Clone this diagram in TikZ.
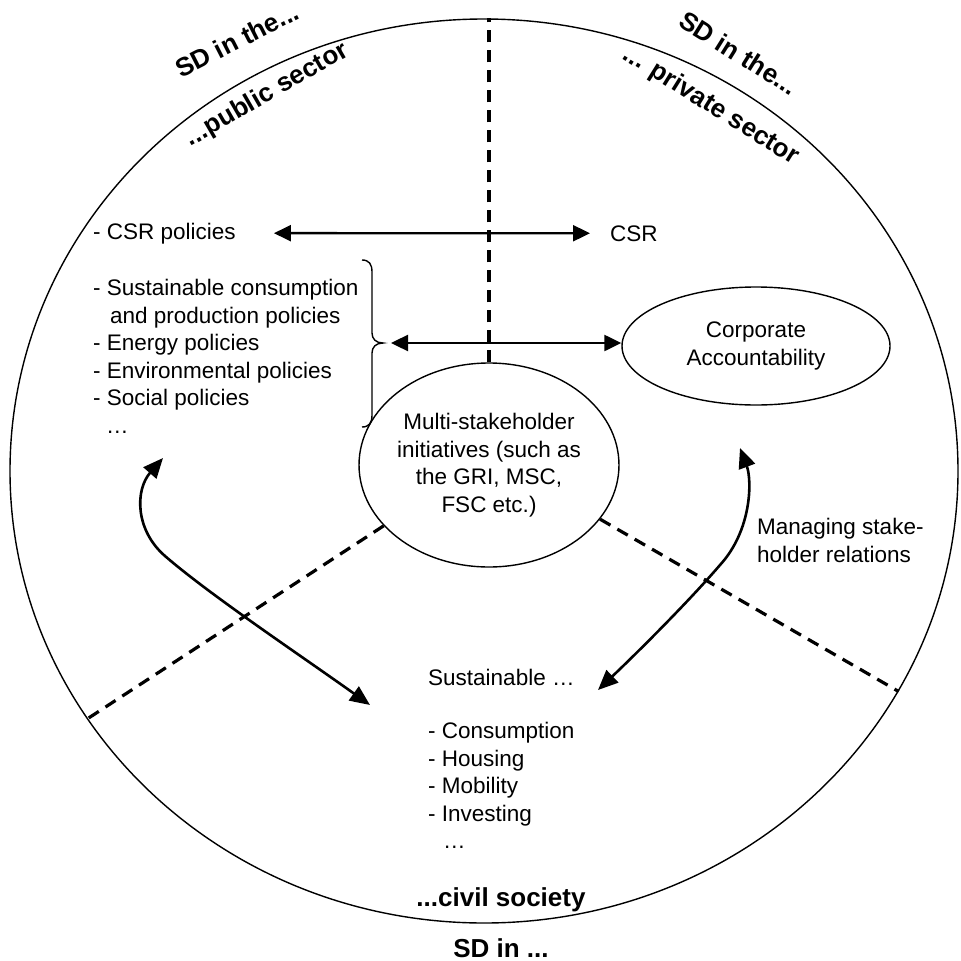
\documentclass[tikz,border=0pt]{standalone}
\usepackage{fontspec}
\setmainfont{Liberation Sans}
\usetikzlibrary{arrows.meta,shapes.geometric}
\begin{document}
\begin{tikzpicture}[x=1pt,y=-1pt,
  txt/.style={font=\fontsize{22.5}{27.5}\selectfont, inner sep=0pt},
  lbl/.style={font=\bfseries\fontsize{26}{30}\selectfont, inner sep=0pt},
  outline/.style={draw, line width=1.4pt},
  divider/.style={line width=3.2pt, dash pattern=on 12pt off 8pt},
  dbl/.style={line width=2.4pt, {Triangle[length=17pt,width=16pt]}-{Triangle[length=17pt,width=16pt]}},
  curvy/.style={line width=2.6pt, {Triangle[length=20pt,width=17pt]}-{Triangle[length=20pt,width=17pt]}},
]
\useasboundingbox (0,0) rectangle (961,961);

% outer world
\node[ellipse, outline, minimum width=948pt, minimum height=904pt, inner sep=0pt] (world) at (484,471) {};

% central nodes
\node[ellipse, outline, txt, align=center, minimum width=243pt, minimum height=204pt] (ms) at (489,465)
  {Multi-stakeholder\\initiatives (such as\\the GRI, MSC,\\FSC etc.)};
\node[ellipse, outline, txt, align=center, minimum width=268pt, minimum height=118pt] (ca) at (756,346)
  {Corporate\\Accountability};

% dividers
\draw[divider] (ms.north) -- (ms.north |- world.north);
\draw[divider] (ms.210) -- (world.212);
\draw[divider] (ms.334) -- (world.332.6);

% sector labels
\node[lbl, rotate=27] (sdl) at (237,40) {SD in the...};
\node[lbl, rotate=30] (pub) at (267,95) {...public sector};
\node[lbl, rotate=-32] (sdr) at (739,53) {SD in the...};
\node[lbl, rotate=-32] (priv) at (711,106) {... private sector};
\node[lbl, anchor=base] (civil) at (501,906) {...civil society};
\node[lbl, anchor=base] (sdin) at (501,957) {SD in ...};

% texts
\node[txt, anchor=base west] (cspol) at (93,239) {- CSR policies};
\node[txt, anchor=base west] (csr) at (610,241) {CSR};
\node[txt, anchor=north west, align=left] (plist) at (93,279)
  {- Sustainable consumption\\\hspace*{17pt}and production policies\\- Energy policies\\- Environmental policies\\- Social policies\\\hspace*{13pt}…};
\node[txt, anchor=north west, align=left] (mng) at (757,518) {Managing stake-\\holder relations};
\node[txt, anchor=base west] (sus) at (428,685) {Sustainable …};
\node[txt, anchor=north west, align=left] (slist) at (428,722)
  {- Consumption\\- Housing\\- Mobility\\- Investing\\\hspace*{15pt}…};

% brace
\draw[line width=1.4pt] (362,260) .. controls (369,260) and (372,264) .. (372,272) -- (372,333)
  .. controls (372,339) and (376,343) .. (383,343)
  .. controls (376,343) and (372,347) .. (372,353) -- (372,415)
  .. controls (372,423) and (369,427) .. (362,427);
\coordinate (btip) at (383,343);

% connectors
\draw[dbl] ([xshift=38pt]cspol.east) -- ([xshift=-20pt]csr.west);
\draw[dbl] ([xshift=8pt]btip) -- (btip -| ca.west);

\coordinate (la1) at (163,458);
\coordinate (la2) at (370,705);
\draw[curvy] (la1) .. controls (135,490) and (135,530) .. (165,556)
  .. controls (210,595) and (300,655) .. (la2);

\coordinate (ra1) at (740,448);
\coordinate (ra2) at (598,690);
\draw[curvy] (ra1) .. controls (752,480) and (752,530) .. (720,565)
  .. controls (690,600) and (640,650) .. (ra2);
\end{tikzpicture}
\end{document}
